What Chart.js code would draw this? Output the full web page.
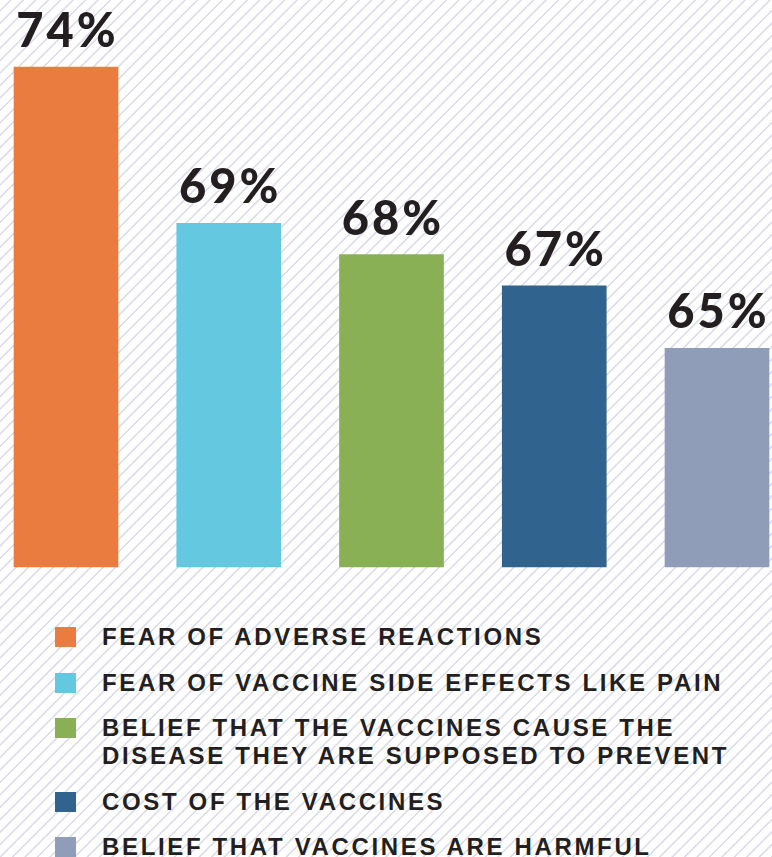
<!DOCTYPE html>
<html>
<head>
<meta charset="utf-8">
<script src="https://cdn.jsdelivr.net/npm/chart.js@4/dist/chart.umd.min.js"></script>
<style>
  html, body {
    margin: 0;
    padding: 0;
  }
  body {
    width: 772px;
    height: 857px;
    overflow: hidden;
    position: relative;
    background: repeating-linear-gradient(135deg, #ffffff 0px, #ffffff 6.6px, #dcdde8 7.2px, #dcdde8 8.2px, #ffffff 8.8px);
  }
  #chartBox {
    position: absolute;
    left: 0;
    top: 0;
    width: 772px;
    height: 590px;
  }
  #legend {
    position: absolute;
    left: 55px;
    top: 623px;
    font-family: "Liberation Sans", Arial, sans-serif;
    font-weight: bold;
    font-size: 24px;
    letter-spacing: 2.65px;
    color: #231f20;
  }
  .item {
    display: flex;
    align-items: flex-start;
    margin-bottom: 17.5px;
  }
  .swatch {
    width: 21px;
    height: 20px;
    flex: none;
    margin-top: 4px;
    margin-right: 26px;
  }
  .txt {
    line-height: 28px;
  }
</style>
</head>
<body>
<div id="chartBox"><canvas id="barrierChart"></canvas></div>
<div id="legend"></div>
<script>
const categories = [
    ['FEAR OF ADVERSE REACTIONS'],
    ['FEAR OF VACCINE SIDE EFFECTS LIKE PAIN'],
    ['BELIEF THAT THE VACCINES CAUSE THE', 'DISEASE THEY ARE SUPPOSED TO PREVENT'],
    ['COST OF THE VACCINES'],
    ['BELIEF THAT VACCINES ARE HARMFUL']
];
const shares = [74, 69, 68, 67, 65];
const barColors = ['#e97c3e', '#63c8e0', '#89b055', '#30638d', '#8f9db9'];
const axisFloor = 58;

// percentage labels above each bar
const valueLabels = {
    id: 'valueLabels',
    afterDatasetsDraw(chart) {
        const ctx = chart.ctx;
        const meta = chart.getDatasetMeta(0);
        ctx.save();
        ctx.font = '900 47px Lato, "DejaVu Sans", sans-serif';
        ctx.letterSpacing = '3px';
        ctx.fillStyle = '#231f20';
        ctx.textAlign = 'center';
        ctx.textBaseline = 'alphabetic';
        meta.data.forEach((bar, i) => {
            ctx.fillText(shares[i] + '%', bar.x + 1.5, bar.y - 20);
        });
        ctx.restore();
    }
};

const ctx = document.getElementById('barrierChart').getContext('2d');
new Chart(ctx, {
    type: 'bar',
    data: {
        labels: categories.map(c => c.join(' ')),
        datasets: [{
            data: shares,
            backgroundColor: barColors,
            borderWidth: 0,
            barThickness: 104,
            base: axisFloor,
            clip: false
        }]
    },
    options: {
        responsive: true,
        maintainAspectRatio: false,
        animation: false,
        layout: {
            padding: { top: 67, bottom: 23, left: 66, right: 55 }
        },
        plugins: {
            legend: { display: false },
            tooltip: { enabled: false }
        },
        scales: {
            x: {
                display: false,
                offset: false,
                grid: { display: false }
            },
            y: {
                display: false,
                min: axisFloor,
                max: 74
            }
        }
    },
    plugins: [valueLabels]
});

// legend below the chart
const legend = document.getElementById('legend');
categories.forEach((lines, i) => {
    const item = document.createElement('div');
    item.className = 'item';
    const sw = document.createElement('div');
    sw.className = 'swatch';
    sw.style.background = barColors[i];
    const txt = document.createElement('div');
    txt.className = 'txt';
    txt.innerHTML = lines.join('<br>');
    item.appendChild(sw);
    item.appendChild(txt);
    legend.appendChild(item);
});
</script>
</body>
</html>
